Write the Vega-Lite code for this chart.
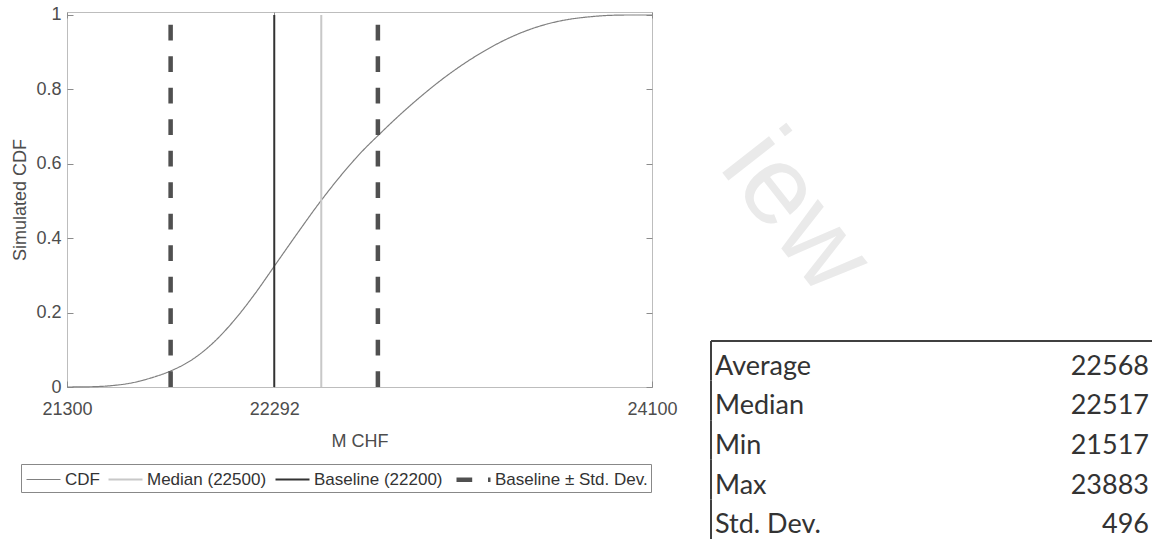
{
  "$schema": "https://vega.github.io/schema/vega-lite/v6.json",
  "background": "white",
  "padding": {"left": 11, "top": 5, "right": 0, "bottom": 0},
  "bounds": "flush",
  "spacing": 59,
  "config": {"font": "Liberation Sans"},
  "datasets": {
    "cdf": [
      {"x": 21300, "p": 0.0, "series": "CDF"},
      {"x": 21400, "p": 0.0005, "series": "CDF"},
      {"x": 21500, "p": 0.003, "series": "CDF"},
      {"x": 21600, "p": 0.01, "series": "CDF"},
      {"x": 21700, "p": 0.024, "series": "CDF"},
      {"x": 21800, "p": 0.044, "series": "CDF"},
      {"x": 21900, "p": 0.074, "series": "CDF"},
      {"x": 22000, "p": 0.119, "series": "CDF"},
      {"x": 22100, "p": 0.179, "series": "CDF"},
      {"x": 22200, "p": 0.251, "series": "CDF"},
      {"x": 22300, "p": 0.331, "series": "CDF"},
      {"x": 22400, "p": 0.411, "series": "CDF"},
      {"x": 22500, "p": 0.489, "series": "CDF"},
      {"x": 22600, "p": 0.561, "series": "CDF"},
      {"x": 22700, "p": 0.626, "series": "CDF"},
      {"x": 22800, "p": 0.682, "series": "CDF"},
      {"x": 22900, "p": 0.735, "series": "CDF"},
      {"x": 23000, "p": 0.784, "series": "CDF"},
      {"x": 23100, "p": 0.829, "series": "CDF"},
      {"x": 23200, "p": 0.869, "series": "CDF"},
      {"x": 23300, "p": 0.904, "series": "CDF"},
      {"x": 23400, "p": 0.934, "series": "CDF"},
      {"x": 23500, "p": 0.958, "series": "CDF"},
      {"x": 23600, "p": 0.976, "series": "CDF"},
      {"x": 23700, "p": 0.988, "series": "CDF"},
      {"x": 23800, "p": 0.995, "series": "CDF"},
      {"x": 23900, "p": 0.999, "series": "CDF"},
      {"x": 24000, "p": 1.0, "series": "CDF"},
      {"x": 24100, "p": 1.0, "series": "CDF"}
    ],
    "lines": [
      {"x": 22517, "series": "Median (22500)"},
      {"x": 22292, "series": "Baseline (22200)"},
      {"x": 21796, "series": "Baseline ± Std. Dev."},
      {"x": 22788, "series": "Baseline ± Std. Dev."}
    ],
    "stats": [
      {"stat": "Average", "value": 22568},
      {"stat": "Median", "value": 22517},
      {"stat": "Min", "value": 21517},
      {"stat": "Max", "value": 23883},
      {"stat": "Std. Dev.", "value": 496}
    ],
    "mark": [{"t": "iew"}]
  },
  "hconcat": [
    {
      "width": 585,
      "height": 375,
      "view": {"stroke": "#bdbdbd", "strokeWidth": 1},
      "resolve": {"axis": {"x": "independent", "y": "independent"}},
      "layer": [
        {
          "data": {"name": "mark"},
          "mark": {"type": "text", "align": "center", "baseline": "middle", "angle": 52, "fontSize": 112, "font": "Liberation Sans", "color": "#eaeaea", "clip": false},
          "encoding": {
            "x": {"datum": 24790, "type": "quantitative", "axis": null},
            "y": {"datum": 0.47, "type": "quantitative", "axis": null},
            "text": {"field": "t", "type": "nominal"}
          }
        },
        {
          "data": {"name": "cdf"},
          "mark": {"type": "line", "interpolate": "monotone"},
          "encoding": {
            "x": {"field": "x", "type": "quantitative",
              "scale": {"domain": [21300, 24100], "nice": false, "zero": false},
              "axis": {"orient": "bottom", "values": [21300, 22292, 24100], "format": "d", "title": "M CHF",
                "labelFontSize": 18, "labelColor": "#4d4d4d", "labelPadding": 19, "labelFlush": false,
                "titleFontSize": 18, "titleFontWeight": "normal", "titleColor": "#4d4d4d", "titlePadding": 14,
                "grid": false, "domain": false, "tickSize": -6, "tickColor": "#8c8c8c"}},
            "y": {"field": "p", "type": "quantitative",
              "scale": {"domain": [0, 1.008], "nice": false},
              "axis": {"orient": "left", "values": [0, 0.2, 0.4, 0.6, 0.8, 1], "format": "~g", "title": "Simulated CDF",
                "labelFontSize": 18, "labelColor": "#4d4d4d", "labelPadding": 12,
                "titleFontSize": 18, "titleFontWeight": "normal", "titleColor": "#4d4d4d", "titlePadding": 6,
                "grid": false, "domain": false, "tickSize": -6, "tickColor": "#8c8c8c"}},
            "color": {"field": "series", "type": "nominal",
              "scale": {"domain": ["CDF", "Median (22500)", "Baseline (22200)", "Baseline ± Std. Dev."], "range": ["#808080", "#c8c8c8", "#333333", "#505050"]},
              "legend": {"title": null, "orient": "none", "legendX": -46, "legendY": 452, "direction": "horizontal", "columns": 4,
                "symbolType": "M-1,0H2.4", "symbolSize": 400, "labelFontSize": 17, "labelColor": "#333333",
                "strokeColor": "#888888", "fillColor": "white", "padding": 3, "columnPadding": 4, "labelOffset": 16}},
            "strokeDash": {"field": "series", "type": "nominal",
              "scale": {"domain": ["CDF", "Median (22500)", "Baseline (22200)", "Baseline ± Std. Dev."], "range": [[1, 0], [1, 0], [1, 0], [15.7, 15.8]]},
              "legend": {"title": null, "orient": "none", "legendX": -46, "legendY": 452, "direction": "horizontal", "columns": 4,
                "symbolType": "M-1,0H2.4", "symbolSize": 400, "labelFontSize": 17, "labelColor": "#333333",
                "strokeColor": "#888888", "fillColor": "white", "padding": 3, "columnPadding": 4, "labelOffset": 16}},
            "strokeWidth": {"field": "series", "type": "nominal",
              "scale": {"type": "ordinal", "domain": ["CDF", "Median (22500)", "Baseline (22200)", "Baseline ± Std. Dev."], "range": [1.2, 2, 2, 4.5]},
              "legend": {"title": null, "orient": "none", "legendX": -46, "legendY": 452, "direction": "horizontal", "columns": 4,
                "symbolType": "M-1,0H2.4", "symbolSize": 400, "labelFontSize": 17, "labelColor": "#333333",
                "strokeColor": "#888888", "fillColor": "white", "padding": 3, "columnPadding": 4, "labelOffset": 16}}
          }
        },
        {
          "data": {"name": "lines"},
          "mark": {"type": "rule"},
          "encoding": {
            "x": {"field": "x", "type": "quantitative",
              "scale": {"domain": [21300, 24100], "nice": false, "zero": false},
              "axis": {"orient": "top", "values": [21300, 22292, 24100], "labels": false, "title": null,
                "grid": false, "domain": false, "tickSize": -6, "tickColor": "#8c8c8c"}},
            "y": {"datum": 0, "type": "quantitative",
              "scale": {"domain": [0, 1.008], "nice": false},
              "axis": {"orient": "right", "values": [0, 0.2, 0.4, 0.6, 0.8, 1], "labels": false, "title": null,
                "grid": false, "domain": false, "tickSize": -6, "tickColor": "#8c8c8c"}},
            "y2": {"datum": 1},
            "color": {"field": "series", "type": "nominal",
              "scale": {"domain": ["CDF", "Median (22500)", "Baseline (22200)", "Baseline ± Std. Dev."], "range": ["#808080", "#c8c8c8", "#333333", "#505050"]},
              "legend": {"title": null, "orient": "none", "legendX": -46, "legendY": 452, "direction": "horizontal", "columns": 4,
                "symbolType": "M-1,0H2.4", "symbolSize": 400, "labelFontSize": 17, "labelColor": "#333333",
                "strokeColor": "#888888", "fillColor": "white", "padding": 3, "columnPadding": 4, "labelOffset": 16}},
            "strokeDash": {"field": "series", "type": "nominal",
              "scale": {"domain": ["CDF", "Median (22500)", "Baseline (22200)", "Baseline ± Std. Dev."], "range": [[1, 0], [1, 0], [1, 0], [15.7, 15.8]]},
              "legend": {"title": null, "orient": "none", "legendX": -46, "legendY": 452, "direction": "horizontal", "columns": 4,
                "symbolType": "M-1,0H2.4", "symbolSize": 400, "labelFontSize": 17, "labelColor": "#333333",
                "strokeColor": "#888888", "fillColor": "white", "padding": 3, "columnPadding": 4, "labelOffset": 16}},
            "strokeWidth": {"field": "series", "type": "nominal",
              "scale": {"type": "ordinal", "domain": ["CDF", "Median (22500)", "Baseline (22200)", "Baseline ± Std. Dev."], "range": [1.2, 2, 2, 4.5]},
              "legend": {"title": null, "orient": "none", "legendX": -46, "legendY": 452, "direction": "horizontal", "columns": 4,
                "symbolType": "M-1,0H2.4", "symbolSize": 400, "labelFontSize": 17, "labelColor": "#333333",
                "strokeColor": "#888888", "fillColor": "white", "padding": 3, "columnPadding": 4, "labelOffset": 16}}
          }
        }
      ]
    },
    {
      "width": 441,
      "height": 527,
      "view": {"stroke": null},
      "data": {"name": "stats"},
      "layer": [
        {
          "mark": {"type": "rect", "fill": null, "stroke": "#404040", "strokeWidth": 2},
          "encoding": {
            "y": {"field": "stat", "type": "nominal", "sort": null, "axis": null,
              "scale": {"type": "band", "domain": ["Average", "Median", "Min", "Max", "Std. Dev."], "range": [329, 527], "paddingInner": 0, "paddingOuter": 0}},
            "x": {"datum": 0, "type": "quantitative", "scale": {"domain": [0, 1], "nice": false}, "axis": null},
            "x2": {"datum": 0}
          }
        },
        {
          "mark": {"type": "rule", "color": "#404040", "strokeWidth": 2},
          "encoding": {
            "y": {"datum": "Average", "type": "nominal", "bandPosition": 0, "axis": null}
          }
        },
        {
          "mark": {"type": "text", "align": "left", "baseline": "middle", "font": "Lato", "fontSize": 27, "color": "#333333", "dx": 4, "dy": 6},
          "encoding": {
            "y": {"field": "stat", "type": "nominal", "sort": null, "axis": null},
            "x": {"datum": 0, "type": "quantitative", "axis": null},
            "text": {"field": "stat", "type": "nominal"}
          }
        },
        {
          "mark": {"type": "text", "align": "right", "baseline": "middle", "font": "Lato", "fontSize": 27, "color": "#333333", "dx": -3, "dy": 6},
          "encoding": {
            "y": {"field": "stat", "type": "nominal", "sort": null, "axis": null},
            "x": {"datum": 1, "type": "quantitative", "axis": null},
            "text": {"field": "value", "type": "quantitative", "format": "d"}
          }
        }
      ]
    }
  ]
}
